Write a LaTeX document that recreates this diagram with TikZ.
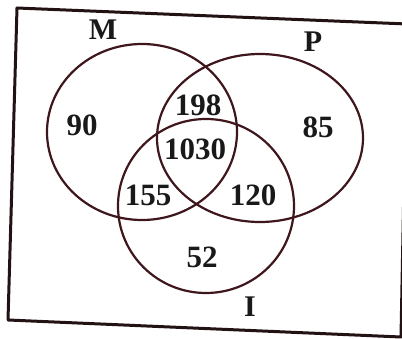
\documentclass[tikz,border=0pt]{standalone}
\usepackage{fontspec}
\setmainfont{Liberation Serif}
\definecolor{circ}{RGB}{62,22,28}
\definecolor{frame}{RGB}{35,18,20}
\begin{document}
\begin{tikzpicture}[x=1pt,y=-1pt,
  setcircle/.style={draw=circ,line width=2.2pt},
  num/.style={font=\fontsize{31}{31}\selectfont\bfseries,text=black!90,inner sep=0pt},
  lab/.style={font=\fontsize{30}{30}\selectfont\bfseries,text=black!90,inner sep=0pt}]
\useasboundingbox (0,0) rectangle (402,339);
\fill[white] (0,0) rectangle (402,339);
% frame (slightly skewed, as photographed)
\coordinate (tl) at (17,8);
\coordinate (tr) at (407,24);
\coordinate (br) at (401,337);
\coordinate (bl) at (8,320);
\draw[frame,line width=3pt,line join=round] (tl) -- (tr) -- (br) -- (bl) -- cycle;
% set centres
\coordinate (cM) at (142,132);
\coordinate (cP) at (260,138);
\coordinate (cI) at (206,206);
\draw[setcircle] (cM) ellipse [x radius=95, y radius=88];
\draw[setcircle] (cP) ellipse [x radius=103, y radius=84];
\draw[setcircle] (cI) ellipse [x radius=88, y radius=87];
% set labels
\node[lab] (lM) at (103,30) {M};
\node[lab] (lP) at (313,42) {P};
\node[lab] (lI) at (250,307) {I};
% region counts
\node[num] (n90) at (82,125) {90};
\node[num] (n198) at (198,105) {198};
\node[num] (n1030) at (195,149) {1030};
\node[num] (n155) at (148,195) {155};
\node[num] (n120) at (253,195) {120};
\node[num] (n85) at (318,127) {85};
\node[num] (n52) at (202,257) {52};
\end{tikzpicture}
\end{document}
